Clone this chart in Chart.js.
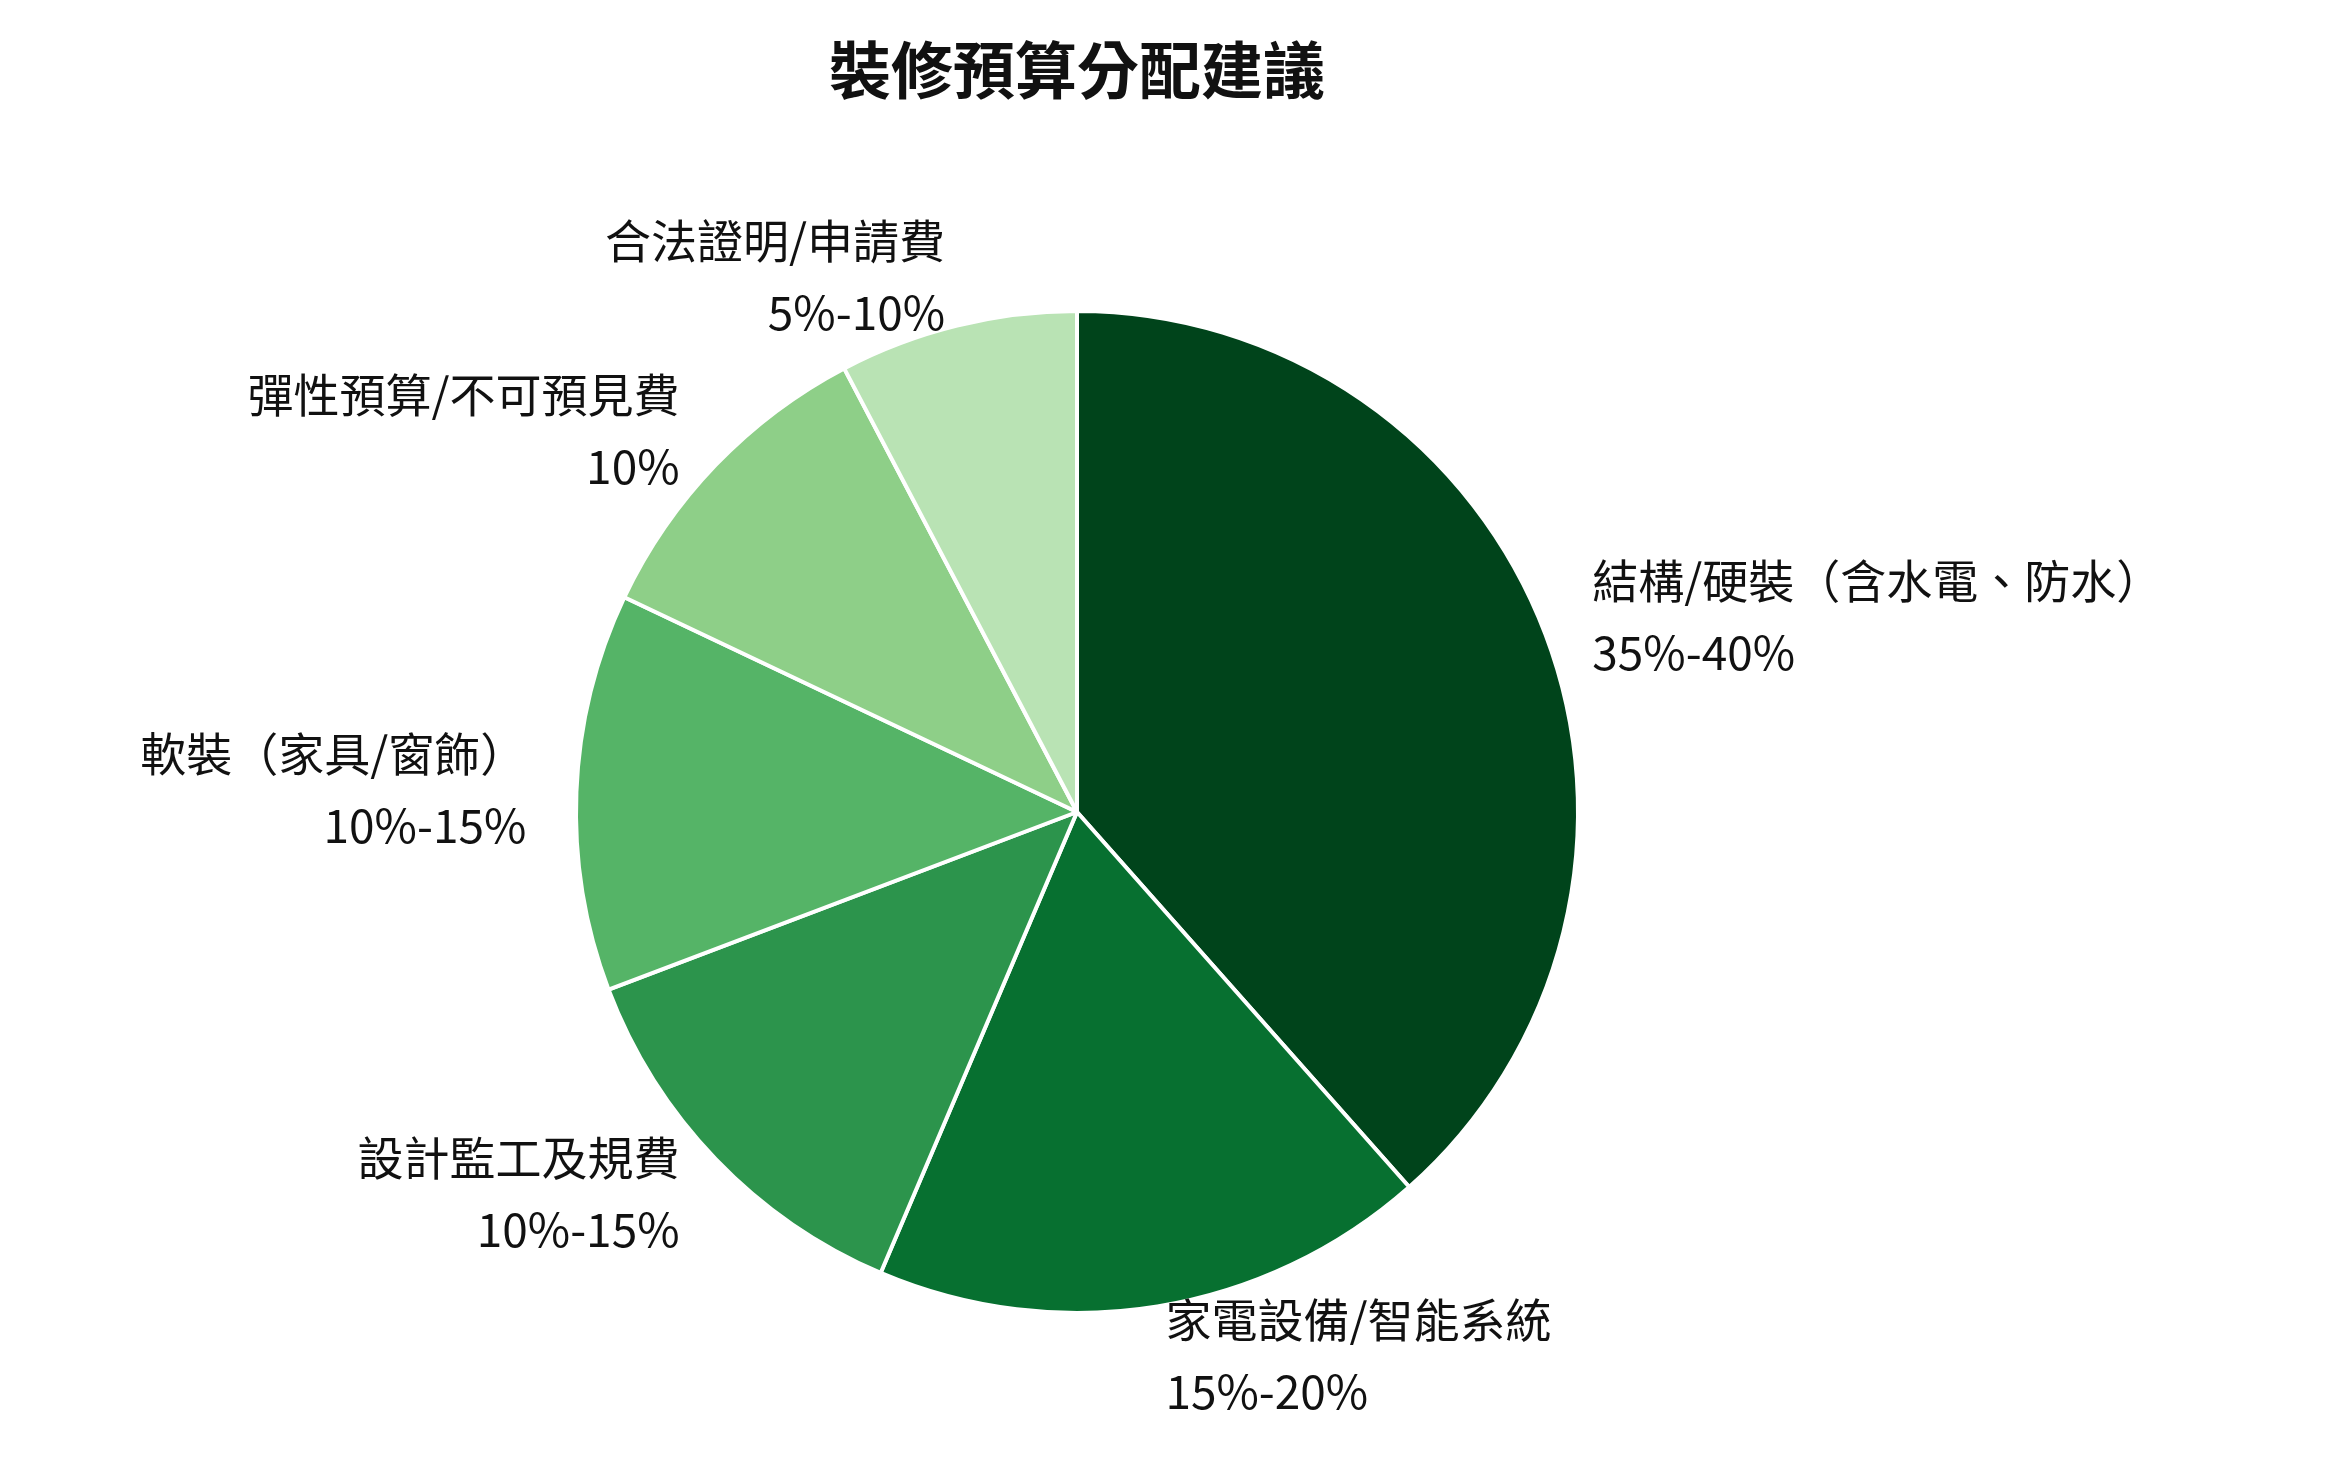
<!DOCTYPE html>
<html><head><meta charset="utf-8">
<script src="https://cdn.jsdelivr.net/npm/chart.js@4"></script>
<style>html,body{margin:0;padding:0;background:#fff}</style>
</head><body>
<canvas id="c" width="2343" height="1468"></canvas>
<script>
const categories = ["結構/硬裝（含水電、防水）","家電設備/智能系統","設計監工及規費","軟裝（家具/窗飾）","彈性預算/不可預見費","合法證明/申請費"];
const rangeLabels = ["35%-40%","15%-20%","10%-15%","10%-15%","10%","5%-10%"];
const values = [37.5,17.5,12.5,12.5,10,7.5];
const colors = ["#00441b","#077030","#2c944c","#55b467","#8ecf88","#b9e3b4"];
const FONT = '"Noto Sans CJK TC","Noto Sans",sans-serif';
const labelPlugin = {
  id:'labels',
  afterDraw(chart){
    const ctx = chart.ctx;
    ctx.save();
    ctx.fillStyle = '#111';
    ctx.font = '600 62px '+FONT;
    ctx.textAlign='center'; ctx.textBaseline='middle';
    ctx.fillText('裝修預算分配建議', 1077, 70);
    ctx.font = '46px '+FONT;
    chart.getDatasetMeta(0).data.forEach((arc,i)=>{
      const p = arc.getProps(['x','y','startAngle','endAngle','outerRadius'],true);
      const a = (p.startAngle+p.endAngle)/2;
      const r = p.outerRadius*1.1;
      const x = p.x + r*Math.cos(a), y = p.y + r*Math.sin(a);
      ctx.textAlign = Math.cos(a) >= 0 ? 'left' : 'right';
      ctx.fillText(categories[i], x, y-36);
      ctx.fillText(rangeLabels[i], x, y+36);
    });
    ctx.restore();
  }
};
new Chart(document.getElementById('c'),{
  type:'pie',
  data:{labels:categories,datasets:[{data:values,backgroundColor:colors,borderColor:'#fff',borderWidth:4}]},
  options:{responsive:false,devicePixelRatio:1,animation:false,
    layout:{padding:{top:309,bottom:153,left:574,right:763}},
    plugins:{legend:{display:false},title:{display:false},tooltip:{enabled:false}}},
  plugins:[labelPlugin]
});
</script>
</body></html>
